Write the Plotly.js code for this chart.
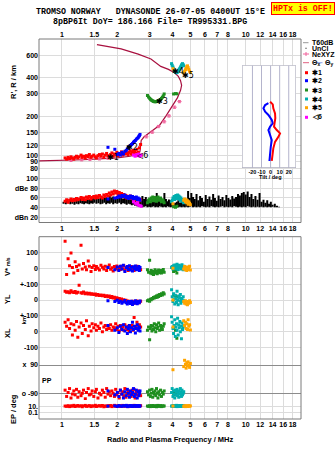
<!DOCTYPE html>
<html><head><meta charset="utf-8">
<script src="https://cdn.plot.ly/plotly-3.0.1.min.js"></script>
<style>html,body{margin:0;padding:0;background:#fff}#plot{width:335px;height:451px}</style>
</head><body><div id="plot"></div><script>
// ---- frequency axis ----
const freqTicks = [1,1.5,2,3,4,5,6,7,8,10,12,14,16,18];
const freqLabels = ['1','1.5','2','3','4','5','6','7','8','10','12','14','16','18'];
const freqRange = [0.75, 20];

// ---- virtual-height model profile ----
const profF = [0.75,0.9,1.05,1.3,1.6,2.0,2.35,2.6,2.66,2.67,2.7,2.8,2.95,3.15,3.4,3.7,4.0,4.25,4.42,4.48,4.42,4.3,4.1,3.8,3.45,3.05,2.6,2.1,1.55];
const profH = [91,91.3,92,93,94.3,96,99,103,108,120,131,140,148,158,172,205,245,280,320,350,380,410,438,465,490,560,610,670,722];

// ---- NeXYZ real-height points ----
const nxF = [1.12,1.28,1.42,1.6,1.78,2.88,3.1,3.35,3.6,3.82,4.1,4.36];
const nxH = [92,93,93.5,94.5,95.5,140,152,168,183,203,237,262];

// ---- echo group 1 (red) ----
const fR = [1.04,1.06,1.08,1.10,1.12,1.14,1.16,1.18,1.20,1.22,1.24,1.27,1.29,1.31,1.34,1.36,1.39,1.41,1.44,1.46,1.49,1.52,1.54,1.57,1.60,1.63,1.66,1.69,1.72,1.75,1.78,1.81,1.84,1.87,1.90,1.93,1.96,1.99,2.02,2.05,2.08,2.11,2.14,2.17,2.20,2.23,2.26,2.29,2.32,2.35,2.38,2.41,2.44,2.47,2.50,2.53,2.56,2.60,2.64,2.68];
const hR = [96,94,97,95,98,96,94,97,99,96,98,101,97,99,96,100,98,102,97,99,101,98,96,100,102,99,103,97,101,104,100,98,102,105,99,103,101,106,100,104,102,107,101,105,103,108,104,102,106,109,103,107,110,105,108,104,112,106,115,122];
const ampR = [53,56,51,55,58,54,57,55,59,56,58,61,57,60,56,62,59,63,58,61,63,60,64,61,65,62,60,66,63,67,64,70,66,72,68,74,70,73,67,71,66,69,64,67,62,65,60,63,61,64,59,62,58,60,56,58,55,57,54,56];
const vpR = [170,-40,60,15,95,5,-30,40,10,-15,20,145,-5,30,8,-10,45,12,-20,5,15,-8,10,0,-12,18,6,-5,12,-15,8,20,-6,3,-18,10,-2,14,-10,5,-8,12,-4,16,-12,2,8,-15,6,-3,10,-9,4,-14,7,-6,12,-2,5,-10];
const ylR = [55,48,52,45,58,50,47,53,44,49,92,46,42,50,40,44,38,43,36,40,34,38,30,35,28,32,26,30,22,27,20,25,16,22,12,18,8,14,4,10,0,6,-4,2,-8,-2,-12,-6,-15,-10,-18,-8,-14,-20,-10,-16,-6,-12,-18,-8];
const xlR = [60,35,75,20,50,-20,45,10,65,-35,30,55,-10,40,15,70,-25,35,5,50,25,45,10,35,20,55,0,30,40,15,35,20,45,10,30,25,50,15,35,5,40,20,30,10,45,25,15,35,5,30,20,40,10,90,25,35,60,15,45,30];
const ppR = [-70,-110,-85,-60,-120,-95,-75,-100,-65,-115,-80,-105,-90,-70,-125,-85,-60,-100,-95,-75,-110,-80,-65,-120,-90,-100,-70,-85,-115,-60,-95,-80,-105,-75,-90,-110,-65,-100,-85,-120,-70,-95,-80,-105,-60,-115,-90,-75,-100,-85,-110,-70,-95,-65,-120,-80,-100,-75,-90,-105];
const epR = [15,12,20,10,18,14,25,11,16,22,13,19,9,17,24,12,15,21,10,18,14,26,11,16,20,13,23,9,17,12,19,15,22,10,16,25,12,18,14,20,11,17,24,13,19,15,21,10,16,22,12,18,14,25,11,17,20,13,15,19];

// ---- echo group 2 (blue) ----
const fB = [1.78,1.94,2.00,2.04,2.08,2.12,2.16,2.20,2.24,2.27,2.30,2.33,2.36,2.39,2.42,2.45,2.48,2.51,2.54,2.57,2.60,2.62,2.64,2.66];
const hB = [116,112,102,104,101,106,103,108,110,113,116,118,120,122,124,127,129,131,134,136,138,141,143,146];
const ampB = [58,60,61,64,62,65,63,66,61,63,59,62,64,60,63,58,61,59,62,57,60,56,58,55];
const vpB = [5,-10,8,-15,12,-5,18,-20,3,10,-8,15,-12,6,-18,9,-4,14,-10,2,-6,11,-14,4];
const ylB = [-5,-10,-2,-15,-8,-20,-12,-3,-18,-25,-10,-15,-22,-8,-28,-12,-20,-5,-16,-24,-10,-18,-14,-6];
const xlB = [40,10,25,-5,35,15,45,5,30,-10,20,40,0,25,60,15,35,-8,20,45,10,30,25,5];
const ppB = [-75,-100,-85,-110,-70,-95,-120,-80,-105,-65,-90,-115,-75,-100,-85,-60,-110,-95,-70,-120,-80,-105,-90,-75];
const epB = [14,18,11,22,16,12,20,15,25,10,17,13,21,16,11,19,14,23,12,18,15,20,13,17];

// ---- echo group 3 (green) ----
const fG = [2.92,2.96,3.00,3.03,3.06,3.09,3.12,3.15,3.18,3.21,3.24,3.27,3.30,3.33,3.36,3.40,3.44,3.48,3.52,3.56,3.60,4.05,4.15,4.22];
const hG = [292,284,278,273,270,267,265,263,262,261,262,262,263,264,266,268,272,277,283,290,300,300,302,301];
const ampG = [50,55,58,52,60,56,62,54,58,61,57,53,59,62,55,58,60,52,56,54,50,42,41,43];
const vpG = [-10,-25,50,-30,-15,-35,-20,-40,-25,-10,-30,-18,-35,-22,-12,-28,-15,-30,-20,-8,-25,-20,-15,-30];
const ylG = [-5,0,-8,5,2,10,8,15,12,20,15,25,18,30,22,35,28,40,32,45,38,30,25,20];
const xlG = [10,30,-50,20,40,5,35,15,50,25,0,45,20,30,55,10,40,25,15,35,50,20,10,-40];
const ppG = [-80,-100,-70,-110,-90,-65,-115,-85,-95,-75,-105,-60,-90,-120,-80,-100,-70,-110,-85,-95,-75,-90,-100,-80];
const epG = [15,12,20,10,18,14,22,11,16,13,19,9,17,24,12,15,21,10,18,14,16,12,20,15];

// ---- echo group 4 (cyan) ----
const fC = [3.95,3.98,4.02,4.05,4.08,4.11,4.14,4.17,4.20,4.23,4.26,4.29,4.32,4.35,4.38,4.41,4.44,4.47,4.50,4.53,4.57,4.60];
const hC = [515,500,485,470,460,450,445,440,438,440,445,450,458,465,472,480,490,500,508,515,505,495];
const ampC = [52,55,60,58,63,57,61,65,59,62,66,60,64,58,62,55,60,57,53,56,52,50];
const vpC = [5,10,-5,15,0,20,8,-3,12,25,5,-8,18,10,2,15,-5,8,22,3,-10,12];
const ylC = [65,20,-10,40,5,-25,30,10,-15,55,0,-30,25,15,-5,35,-20,10,5,-10,20,-5];
const xlC = [95,60,20,-10,40,75,-30,30,50,10,85,-20,45,25,65,0,35,-44,55,15,30,40];
const ppC = [-85,-60,-110,-75,-95,-120,-70,-100,-80,-65,-105,-90,-115,-75,-95,-60,-85,-110,-70,-100,-90,-80];
const epC = [14,18,11,22,16,12,20,15,25,10,17,13,21,16,11,19,14,23,12,18,15,20];

// ---- echo group 5 (orange) ----
const fO = [4.02,4.60,4.65,4.70,4.74,4.78,4.82,4.86,4.90,4.95,5.00];
const hO = [470,440,450,462,475,488,495,480,465,450,440];
const ampO = [48,55,58,52,56,50,54,47,52,49,46];
const vpO = [0,-5,10,-10,5,-15,8,-8,3,12,-12];
const ylO = [0,-10,-20,-5,-25,-15,-30,-10,-20,-5,-15];
const xlO = [30,70,40,60,20,50,15,75,35,45,12];
const ppO = [60,80,120,95,70,105,85,110,90,75,100];
const epO = [15,12,18,10,20,14,16,11,22,13,17];

// ---- echo group 6 (magenta) ----
const fM = [2.45,2.50,2.55,2.58,2.62,2.66,2.70];
const hM = [101,99,102,100,103,99,101];
const ampM = [52,49,47,50,45,44,43];

// ---- unclassified echo amplitudes (dB) ----
const fU = [1.02,1.05,1.08,1.11,1.14,1.17,1.20,1.23,1.26,1.29,1.32,1.35,1.38,1.41,1.44,1.47,1.50,1.54,1.58,1.62,1.66,1.70,1.74,1.78,1.82,1.86,1.90,1.95,2.00,2.05,2.10,2.15,2.20,2.25,2.30,2.35,2.40,2.45,2.50,2.56,2.62,2.68,2.74,2.80,2.86,2.92,2.98,3.04,3.10,3.16,3.22,3.28,3.34,3.40,3.47,3.54,3.61,3.68,3.75,3.82,3.90,3.98,4.06,4.14,4.22,4.30,4.39,4.48,4.57,4.66,4.76,4.86,4.96,5.06,5.17,5.28,5.40,5.52,5.65,5.78,5.92,6.06,6.20,6.35,6.50,6.65,6.80,6.96,7.12,7.30,7.48,7.66,7.85,8.05,8.25,8.45,8.65,8.86,9.08,9.30,9.53,9.76,10.0,10.25,10.5,10.75,11.0,11.3,11.6,11.9,12.2,12.5,12.8,13.1,13.4,13.7,14.0,14.4,14.8,15.2];
const hiU = [52,55,50,54,56,53,57,55,58,56,59,57,60,58,61,59,60,62,58,61,63,60,62,59,64,61,63,60,62,60,62,59,61,58,60,57,59,56,55,52,54,60,64,58,62,55,57,50,55,52,58,70,54,60,52,56,70,58,53,57,55,50,48,50,52,55,50,53,49,52,48,74,60,70,62,58,68,55,64,60,52,66,58,63,56,68,60,54,65,58,62,55,66,60,57,64,59,62,68,65,70,72,67,73,62,68,58,64,56,70,52,56,50,55,48,52,46,48,44,42];
const loU = [48,47,49,47,48,46,48,47,49,48,47,49,48,47,49,48,50,48,49,47,48,50,47,49,48,50,47,49,48,50,47,49,48,46,48,47,45,46,44,43,42,42,41,42,43,41,42,41,42,43,41,42,41,43,42,41,42,41,43,42,41,42,41,42,43,41,42,41,42,41,42,41,42,43,41,42,41,42,41,43,42,41,42,41,43,42,41,42,41,42,43,41,42,41,42,41,43,42,41,42,41,42,41,43,42,41,42,41,42,41,42,41,42,41,42,41,42,41,41,41];
const noiseDb = 20;

// ---- tilt profile (inset) ----
const tiltHx = [262,250,233,213,195,178,168,158,149,140,128,114,101,91];
const tiltX  = [-0.5,2.4,3.0,4.9,5.2,4.2,3.8,6.8,10.4,8.6,4.9,3.0,2.0,1.3];
const tiltHy = [255,247,233,219,207,189,178,168,158,145,132,117,101,91];
const tiltY  = [-2.4,-6,-7.9,-6,-2.4,1.3,2.4,-0.5,-2.4,-0.5,1.3,0.2,-0.5,-1.3];
const tiltTicks = [-20,-10,0,10,20];
const tiltRange = [-31.5, 28];
const tiltHRange = [1.907, 2.699];

// ---- group labels on the ionogram ----
const grpText = ['✱1','✱2','◁6','✱3','✱4','✱5'];
const grpF = [1.90,2.40,2.72,3.50,4.30,4.88];
const grpH = [97,116,99.5,263,450,420];

// ---------------- layout helpers ----------------
const W = 335, H = 451, L = 39, R = 301, T = 39, B = 419;
const PX = p => (p - L) / (R - L);
const PY = p => (B - p) / (B - T);
const dom = (top, bot) => [PY(bot), PY(top)];
const lg = Math.log10;

const FONT = 'Liberation Sans, Arial, sans-serif';
const MONO = 'Liberation Mono, DejaVu Sans Mono, monospace';
const tickFont = {family: FONT, size: 7, color: '#000', weight: 'bold'};
const GRID = '#dcdcdc';
const FRAME = '#7a7a7a';

const COL = {r:'#ff0000', b:'#0000ff', g:'#1f8f1f', c:'#00aeae', o:'#ffa500', m:'#ff00ff'};
const ROW_YL = -200, ROW_XL = -400;

function xAx(anchor, side, labels) {
  return {type:'log', range:[lg(freqRange[0]), lg(freqRange[1])], domain:[0,1], anchor, side,
    tickvals:freqTicks, ticktext:freqLabels, tickangle:0, showgrid:true, gridcolor:GRID, gridwidth:1,
    zeroline:false, showline:false, ticks:'', showticklabels:labels, tickfont:tickFont};
}
function yAx(anchor, d, extra) {
  return Object.assign({anchor, domain:d, showgrid:true, gridcolor:GRID, gridwidth:1,
    zeroline:false, showline:false, ticks:'', tickfont:tickFont}, extra);
}

const traces = [];
function pts(x, y, color, xa, ya, size) {
  traces.push({type:'scatter', mode:'markers', x, y, xaxis:xa, yaxis:ya, hoverinfo:'skip',
    marker:{symbol:'square', size:size||3, color, line:{width:0}}});
}

// ionogram: model profile and NeXYZ points
traces.push({type:'scatter', mode:'lines', x:profF, y:profH, xaxis:'x', yaxis:'y',
  line:{color:'#a8103f', width:1.2}, hoverinfo:'skip'});
traces.push({type:'scatter', mode:'markers', x:nxF, y:nxH, xaxis:'x', yaxis:'y', hoverinfo:'skip',
  marker:{symbol:'line-ew-open', size:3, color:'#f0609a', line:{width:1, color:'#f0609a'}},
  error_y:{type:'percent', value:2, width:1.5, thickness:1, color:'#f0609a'}});

// unclassified amplitudes as vertical strokes
const ux = [], uy = [];
fU.forEach((f, i) => { ux.push(f, f, null); uy.push(loU[i], hiU[i], null); });
traces.push({type:'scatter', mode:'lines', x:ux, y:uy, xaxis:'x2', yaxis:'y2',
  line:{color:'#000', width:2}, hoverinfo:'skip'});

const groups = [
  {f:fR, h:hR, a:ampR, vp:vpR, yl:ylR, xl:xlR, pp:ppR, ep:epR, c:COL.r},
  {f:fB, h:hB, a:ampB, vp:vpB, yl:ylB, xl:xlB, pp:ppB, ep:epB, c:COL.b},
  {f:fG, h:hG, a:ampG, vp:vpG, yl:ylG, xl:xlG, pp:ppG, ep:epG, c:COL.g},
  {f:fC, h:hC, a:ampC, vp:vpC, yl:ylC, xl:xlC, pp:ppC, ep:epC, c:COL.c},
  {f:fO, h:hO, a:ampO, vp:vpO, yl:ylO, xl:xlO, pp:ppO, ep:epO, c:COL.o},
  {f:fM, h:hM, a:ampM, c:COL.m}
];
groups.forEach(g => {
  pts(g.f, g.h, g.c, 'x', 'y');
  pts(g.f, g.a, g.c, 'x2', 'y2');
  if (g.vp) {
    pts(g.f, g.vp, g.c, 'x3', 'y3');
    pts(g.f, g.yl.map(v => v + ROW_YL), g.c, 'x3', 'y3');
    pts(g.f, g.xl.map(v => v + ROW_XL), g.c, 'x3', 'y3');
    pts(g.f, g.pp, g.c, 'x3', 'y4');
    pts(g.f, g.ep, g.c, 'x3', 'y5');
  }
});

// tilt inset
traces.push({type:'scatter', mode:'lines', x:tiltY, y:tiltHy, xaxis:'x6', yaxis:'y6',
  line:{color:'#0000ff', width:2}, hoverinfo:'skip'});
traces.push({type:'scatter', mode:'lines', x:tiltX, y:tiltHx, xaxis:'x6', yaxis:'y6',
  line:{color:'#ff0000', width:2}, hoverinfo:'skip'});

// ---------------- annotations ----------------
const ann = [];
function txt(text, px, py, o) {
  ann.push(Object.assign({text, x:PX(px), y:PY(py), xref:'paper', yref:'paper', showarrow:false,
    xanchor:'center', yanchor:'middle', font:{family:FONT, size:7, color:'#000', weight:'bold'}}, o||{}));
}
const NB = s => s.replace(/ /g, '\u00a0');
txt(NB('TROMSO NORWAY   DYNASONDE 26-07-05 0400UT 15°E'), 150, 12, {font:{family:MONO, size:8.3, color:'#000', weight:'bold'}});
txt(NB('8pBP6It DoY= 186.166 File= TR995331.BPG'), 150, 21, {font:{family:MONO, size:8.3, color:'#000', weight:'bold'}});
txt(NB('HPTx is OFF!'), 302.5, 8, {font:{family:MONO, size:8.3, color:'#ff0000', weight:'bold'}, bgcolor:'#ffff00',
  bordercolor:'#ff0000', borderwidth:1, borderpad:1});

const lab = {family:FONT, size:7.5, color:'#000', weight:'bold'};
txt("R', R / km", 13, 82, {textangle:-90, font:lab});
txt("V* <span style='font-size:5px'>m/s</span>", 7, 267, {textangle:-90, font:lab});
txt('YL', 7, 299, {textangle:-90, font:lab});
txt('km', 23, 320.5, {textangle:-90, font:{family:FONT, size:6, color:'#000', weight:'bold'}});
txt('XL', 7, 333, {textangle:-90, font:lab});
txt('EP / deg', 13, 409, {textangle:-90, font:lab});
txt('PP', 47, 380);
txt('Radio and Plasma Frequency / MHz', 170, 439, {font:lab});
txt('Tilt / deg', 270.5, 177, {font:{family:FONT, size:5.5, color:'#000', weight:'bold'}});

// legend
const LX = 310;
const legRows = [
  ['T60dB', 42.7], ['UnCl', 48.3], ['NeXYZ', 54], [null, 62.7],
  ['✱1', 72.7, COL.r], ['✱2', 80.7, COL.b], ['✱3', 90, COL.g], ['✱4', 99, COL.c], ['✱5', 107.7, COL.o], ['◁6', 117.3, COL.m]
];
legRows.forEach(r => { if (r[0]) txt(r[0], LX, r[1], {xanchor:'left'}); });
txt('Θ<sub>x</sub>', 309.5, 62.7, {xanchor:'left'});
txt('Θ<sub>y</sub>', 323, 62.7, {xanchor:'left'});

// group labels in data units
grpText.forEach((t, i) => ann.push({text:t, x:lg(grpF[i]), y:lg(grpH[i]), xref:'x', yref:'y',
  showarrow:false, font:{family:'DejaVu Sans, sans-serif', size:8, color:'#000'}}));

// ---------------- shapes ----------------
const shapes = [];
function pline(x0, y0, x1, y1, color, w) {
  shapes.push({type:'line', xref:'paper', yref:'paper', x0:PX(x0), y0:PY(y0), x1:PX(x1), y1:PY(y1),
    line:{color, width:w||1}, layer:'above'});
}
// frames
shapes.push({type:'rect', xref:'paper', yref:'paper', x0:0, x1:1, y0:PY(222.5), y1:1, line:{color:FRAME, width:1}, layer:'above'});
shapes.push({type:'rect', xref:'paper', yref:'paper', x0:0, x1:1, y0:0, y1:PY(236.7), line:{color:FRAME, width:1}, layer:'above'});
// noise level
shapes.push({type:'line', xref:'x2', yref:'y2', x0:lg(freqRange[0]), x1:lg(freqRange[1]), y0:noiseDb, y1:noiseDb,
  line:{color:'#9a9ae8', width:1.2}, layer:'below'});
// inset background, grid and frame (drawn in the inset's own subplot, under its traces)
const hLo = Math.pow(10, tiltHRange[0]), hHi = Math.pow(10, tiltHRange[1]);
shapes.push({type:'rect', xref:'x6', yref:'y6', x0:tiltRange[0], x1:tiltRange[1], y0:hLo, y1:hHi,
  fillcolor:'#fff', line:{width:0}, layer:'below'});
tiltTicks.forEach(v => shapes.push({type:'line', xref:'x6', yref:'y6', x0:v, x1:v, y0:hLo, y1:hHi,
  line:{color:'#b4b4cc', width:1}, layer:'below'}));
shapes.push({type:'rect', xref:'x6', yref:'y6', x0:tiltRange[0], x1:tiltRange[1], y0:hLo, y1:hHi,
  line:{color:'#9a9aae', width:1}, layer:'below'});
// legend glyphs
pline(303, 42.7, 308.5, 42.7, '#999', 1);
shapes.push({type:'rect', xref:'paper', yref:'paper', x0:PX(305.5), x1:PX(306.5), y0:PY(48.8), y1:PY(47.8), fillcolor:'#000', line:{width:0}});
pline(303, 54, 309, 54, '#f0609a', 1);
pline(306, 52, 306, 56, '#f0609a', 1);
pline(303, 62.7, 309, 62.7, '#e06080', 1);
pline(317, 62.7, 322.5, 62.7, '#8aa0e8', 1);
legRows.forEach(r => { if (r[2]) shapes.push({type:'rect', xref:'paper', yref:'paper',
  x0:PX(305), x1:PX(308), y0:PY(r[1] + 1.5), y1:PY(r[1] - 1.5), fillcolor:r[2], line:{width:0}}); });

// ---------------- axes ----------------
const layout = {
  width:W, height:H, margin:{l:L, r:W - R, t:T, b:H - B, pad:0},
  paper_bgcolor:'#fff', plot_bgcolor:'#fff', showlegend:false, font:{family:FONT, size:7, color:'#000'},
  xaxis: xAx('y', 'top', true),
  xaxis2: xAx('y2', 'bottom', true),
  xaxis3: xAx('y5', 'bottom', true),
  yaxis: yAx('x', dom(T, 172), {type:'log', range:[1.8736, 2.9023],
    tickvals:[80,90,100,120,150,200,300,400,600,800], ticktext:['80','90','100','120','150','200','300','400','600','800']}),
  yaxis2: yAx('x2', dom(172, 222.5), {range:[9.8, 112.9], tickvals:[20,40,60,80,100],
    ticktext:['dBn 20','40','60','dBe 80','100']}),
  yaxis3: yAx('x3', dom(236.7, 356), {range:[-552.2, 198.1], tickvals:[100,0,-100,-200,-300,-400,-500],
    ticktext:['100','0','+-100','0','+-100','0','-100']}),
  yaxis4: yAx('x3', dom(356, 400), {range:[-132.7, 147.3], tickvals:[90,-90], ticktext:['x  90','o -90'], gridcolor:'#8c8c8c'}),
  yaxis5: yAx('x3', dom(400, B), {type:'log', range:[-3.0, 3.13], tickvals:[10,0.1], ticktext:['10.','0.1']}),
  xaxis6: {domain:[PX(242), PX(296)], range:tiltRange, anchor:'y6', tickvals:tiltTicks,
    ticktext:tiltTicks.map(String), tickangle:0, showgrid:false, zeroline:false, showline:false, ticks:'',
    tickfont:{family:FONT, size:5.5, color:'#000', weight:'bold'}},
  yaxis6: {domain:dom(65.5, 167.7), type:'log', range:tiltHRange, anchor:'x6', showgrid:false,
    zeroline:false, showline:false, showticklabels:false, ticks:''},
  annotations: ann,
  shapes: shapes
};

Plotly.newPlot('plot', traces, layout, {staticPlot:true, displayModeBar:false});
</script></body></html>
